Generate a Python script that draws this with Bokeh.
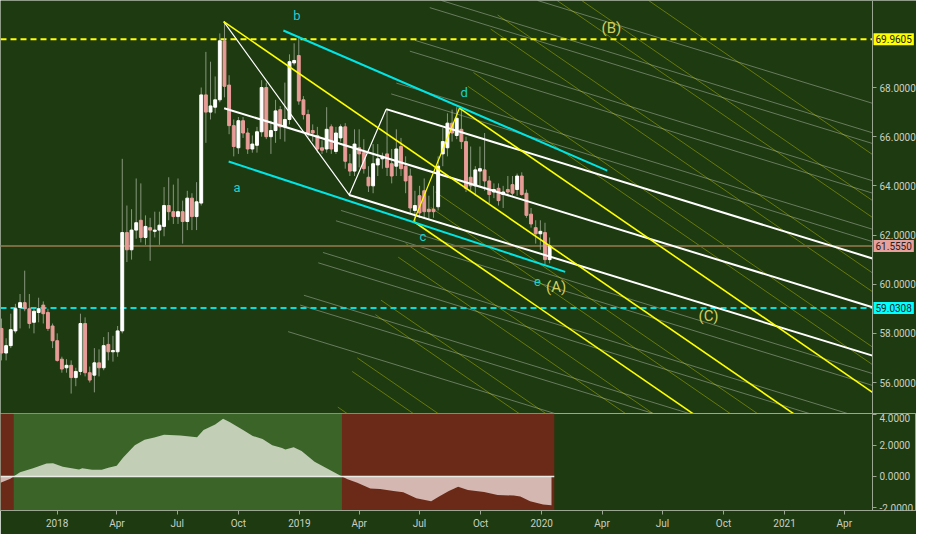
import datetime as dt
from bokeh.plotting import figure
from bokeh.layouts import column
from bokeh.models import (Range1d, FixedTicker, CustomJSTickFormatter, NumeralTickFormatter,
                          Label, ColumnDataSource)
from bokeh.core.properties import value
from bokeh.embed import file_html
from bokeh.resources import INLINE

# ---------------- data ----------------
START = dt.date(2017, 10, 9)          # first weekly bar (week 0)

opens = [58.2, 57.2, 57.5, 58.1, 59.05, 59.25, 59.0, 58.45, 58.85, 59.15,
         58.85, 58.3, 57.7, 56.95, 56.6, 56.7, 56.2, 56.45, 58.4, 56.4,
         56.3, 56.8, 56.6, 57.55, 57.25, 57.25, 58.1, 62.1, 61.4, 62.2,
         62.6, 61.9, 62.3, 62.15, 62.2, 62.35, 63.2, 62.95, 62.75, 62.95,
         62.55, 63.5, 62.75, 63.3, 67.7, 67.0, 67.2, 67.5, 69.9, 68.1,
         66.45, 65.55, 66.65, 66.15, 65.5, 65.65, 66.2, 68.0, 66.0, 66.25,
         67.1, 66.4, 66.7, 69.0, 69.3, 67.5, 66.9, 66.25, 66.05, 65.55,
         65.5, 66.4, 65.4, 65.95, 66.4, 64.9, 64.6, 65.55, 65.35, 64.35,
         64.0, 64.85, 65.1, 65.3, 64.9, 64.8, 65.6, 64.8, 64.4, 63.0,
         63.6, 63.8, 63.05, 63.05, 63.15, 65.3, 65.55, 66.55, 66.05, 66.3,
         65.8, 64.35, 64.0, 64.6, 64.65, 64.2, 63.75, 63.9, 63.65, 63.85,
         64.05, 63.85, 64.4, 63.7, 62.85, 62.3, 62.05, 62.1, 61.0]
highs = [58.6, 57.8, 58.8, 59.2, 59.6, 60.55, 59.6, 59.05, 59.45, 59.3,
         59.0, 58.4, 58.0, 57.05, 56.95, 56.9, 56.6, 58.8, 58.65, 56.65,
         57.4, 57.35, 57.85, 58.05, 57.9, 58.3, 65.1, 63.2, 63.05, 64.3,
         64.1, 62.8, 62.7, 62.95, 62.95, 63.95, 64.35, 64.05, 64.3, 63.4,
         63.8, 63.7, 64.15, 68.0, 69.45, 69.05, 68.45, 70.2, 70.7, 68.5,
         66.7, 66.8, 66.8, 66.35, 66.05, 66.4, 68.3, 68.2, 66.65, 67.5,
         67.25, 68.2, 69.35, 69.8, 70.1, 67.65, 67.1, 66.5, 66.4, 65.85,
         67.2, 66.5, 66.4, 66.5, 66.55, 65.3, 66.3, 66.3, 65.9, 64.8,
         65.7, 65.7, 65.35, 67.1, 65.5, 66.3, 65.95, 65.2, 64.7, 63.8,
         64.0, 64.3, 63.6, 64.0, 65.2, 66.35, 66.95, 67.1, 67.2, 67.15,
         66.0, 65.6, 64.8, 65.6, 66.15, 64.4, 64.1, 64.1, 64.0, 64.4,
         64.4, 64.5, 64.55, 63.85, 63.1, 62.6, 62.6, 62.5, 61.9]
lows = [56.9, 56.9, 57.4, 58.0, 58.2, 58.9, 58.2, 58.0, 58.45, 58.4,
        58.1, 57.4, 56.85, 56.4, 56.4, 55.55, 55.85, 56.3, 56.25, 56.0,
        55.6, 56.25, 56.5, 56.9, 56.85, 57.05, 58.0, 60.9, 61.0, 61.85,
        61.7, 61.6, 60.95, 61.9, 61.6, 61.95, 62.6, 62.45, 62.45, 61.65,
        62.2, 62.2, 62.2, 63.2, 65.75, 66.7, 66.95, 67.4, 67.6, 66.1,
        65.2, 65.3, 65.95, 65.3, 65.35, 65.35, 66.0, 65.9, 65.3, 65.75,
        65.9, 65.8, 66.5, 68.9, 67.3, 66.7, 66.0, 65.8, 65.35, 65.3,
        65.35, 65.3, 65.3, 65.8, 64.7, 64.4, 64.4, 64.75, 64.5, 63.75,
        63.7, 64.4, 64.7, 64.4, 64.1, 64.4, 64.4, 63.7, 62.9, 62.55,
        62.7, 62.65, 62.65, 62.7, 63.0, 64.8, 65.2, 65.8, 65.9, 65.5,
        63.75, 63.8, 63.6, 64.0, 63.8, 63.3, 63.5, 63.2, 63.1, 63.6,
        63.6, 63.6, 63.6, 62.7, 62.3, 61.65, 61.4, 60.8, 60.85]
closes = [57.2, 57.5, 58.15, 59.0, 59.25, 59.0, 58.4, 58.9, 59.0, 58.8,
          58.2, 57.7, 56.9, 56.55, 56.7, 56.2, 56.45, 58.4, 56.4, 56.1,
          56.8, 56.6, 57.5, 57.25, 57.3, 58.1, 62.1, 61.4, 62.2, 62.5,
          61.9, 62.35, 62.2, 62.2, 62.4, 63.2, 62.95, 62.75, 62.95, 62.55,
          63.5, 62.75, 63.35, 67.7, 67.0, 67.25, 67.5, 69.9, 68.05, 66.45,
          65.6, 66.65, 66.15, 65.5, 65.7, 66.2, 68.0, 66.0, 66.25, 67.05,
          66.4, 66.7, 69.05, 69.1, 67.45, 66.9, 66.15, 66.15, 65.5, 65.45,
          66.3, 65.5, 66.15, 66.4, 65.0, 64.6, 65.7, 65.3, 64.7, 64.0,
          64.9, 65.1, 65.2, 64.75, 64.4, 65.5, 64.7, 64.2, 63.1, 63.2,
          62.9, 62.95, 62.95, 62.95, 64.8, 65.8, 66.55, 66.15, 66.75, 65.8,
          63.9, 64.0, 64.65, 64.7, 64.2, 63.65, 63.85, 63.4, 63.75, 63.75,
          63.7, 64.4, 63.65, 62.8, 62.45, 62.05, 62.15, 61.0, 61.555]

# horizontal levels
level_B = 69.9605
level_C = 59.0308
last_price = 61.555

# wave pivots (week, price)
zig_w = [47.84, 74.84, 82.81]
zig_p = [70.68, 63.63, 67.12]
cd_w = [88.73, 98.58]
cd_p = [62.55, 67.16]

# white channel lines: start (week, price), common slope per week
white_w = [82.81, 47.93, 74.84]
white_p = [67.12, 67.16, 63.63]
white_slope = -0.058
# yellow lines from peak, c, d
yel_w = [47.84, 88.73, 98.58]
yel_p = [70.68, 62.55, 67.16]
yel_slope = -0.130
# cyan channel
cyan_w0 = [60.68, 48.9]
cyan_p0 = [70.32, 64.99]
cyan_w1 = [130.4, 121.35]
cyan_p1 = [64.62, 60.5]

# faint fan lines
gray_w = [115.4, 94.7, 92.2, 89.0, 87.9, 85.0, 83.9, 73.1, 72.0, 69.2, 68.2, 65.1, 64.3, 61.7]
gray_p = [71.54, 71.54, 71.25, 69.92, 69.48, 68.18, 67.74, 63.0, 62.58, 61.29, 60.87, 59.55, 59.15, 58.07]
olive_w = [139.3, 124.9, 119.6, 106.8, 105.3, 101.6, 100.4, 93.4, 92.4, 87.0, 85.4, 81.7, 80.5, 76.6, 75.5, 72.4]
olive_p = [71.54, 71.54, 71.54, 70.95, 70.38, 68.61, 68.05, 63.75, 63.12, 61.66, 61.1, 59.35, 58.76, 57.0, 56.45, 55.0]

wave_txt = ["a", "b", "c", "d", "e"]
wave_w = [50.7, 63.6, 90.7, 99.6, 115.4]
wave_p = [63.95, 70.95, 61.93, 67.78, 60.11]
deg_txt = ["(A)", "(B)", "(C)"]
deg_w = [119.4, 131.3, 152.2]
deg_p = [59.88, 70.43, 58.7]

# oscillator samples (week, value)
osc_w = [-0.2, 1.9, 2.6, 4.0, 6.8, 9.7, 11.1, 13.2, 16.7, 17.4, 19.5, 21.6, 23.0, 24.8,
         26.2, 28.7, 30.8, 32.9, 35.0, 38.5, 42.1, 43.5, 46.0, 47.7, 49.1, 52.0, 54.1,
         56.2, 58.3, 60.4, 61.1, 62.9, 64.6, 67.4, 70.3, 73.3, 74.5, 76.6, 79.4, 81.5,
         84.4, 86.5, 89.3, 92.5, 94.2, 96.3, 98.3, 100.4, 103.9, 106.8, 110.3, 111.7,
         113.8, 116.6, 118.4]
osc_v = [-0.4, -0.15, 0.0, 0.27, 0.52, 0.83, 0.85, 0.62, 0.44, 0.52, 0.42, 0.42, 0.56, 0.69,
         1.21, 2.0, 2.35, 2.5, 2.67, 2.63, 2.52, 2.98, 3.33, 3.71, 3.5, 2.98, 2.6,
         2.4, 2.0, 1.83, 1.73, 1.88, 1.63, 0.94, 0.48, 0.0, -0.19, -0.4, -0.77, -0.81,
         -0.94, -1.02, -1.4, -1.6, -1.29, -0.94, -0.67, -0.88, -1.0, -1.19, -1.23, -1.29,
         -1.6, -1.81, -1.85]
# regime bands (week start, week end, regime)
band_w0 = [-0.21, 2.6, 73.3]
band_w1 = [2.6, 73.3, 119.0]
band_up = [False, True, False]

price_ticks = [56, 58, 60, 62, 64, 66, 68]
osc_ticks = [-2, 0, 2, 4]
tick_dates = ["2018-01-01", "2018-04-01", "2018-07-01", "2018-10-01", "2019-01-01",
              "2019-04-01", "2019-07-01", "2019-10-01", "2020-01-01", "2020-04-01",
              "2020-07-01", "2020-10-01", "2021-01-01", "2021-04-01"]
tick_labels = ["2018", "Apr", "Jul", "Oct", "2019", "Apr", "Jul", "Oct", "2020",
               "Apr", "Jul", "Oct", "2021", "Apr"]

# ---------------- style / layout ----------------
BG = "#1e3a10"
AXC = "#9aa592"
TXT = "#c9d0c2"
FONT = "Roboto"
FIG_W = 916
SCALE_W = 44                      # width of the price-scale strip
X0 = -0.21
XA = 187.5                        # week where the price scale sits
X_END = X0 + (XA - X0) * FIG_W / (FIG_W - SCALE_W)

def week_of(s):
    return (dt.date.fromisoformat(s) - START).days / 7.0

tick_pos = [week_of(s) for s in tick_dates]

main = figure(width=FIG_W, height=413, x_range=Range1d(X0, X_END), y_range=Range1d(54.74, 71.54),
              output_backend="svg", toolbar_location=None, x_axis_location=None,
              y_axis_location="right", min_border_left=0, min_border_right=0,
              min_border_top=0, min_border_bottom=0, background_fill_color=BG,
              border_fill_color=BG, outline_line_color=None)
main.grid.visible = False

# faint lines
gx1 = [XA] * len(gray_w)
gy1 = [p + white_slope * (XA - w) for w, p in zip(gray_w, gray_p)]
main.segment(gray_w, gray_p, gx1, gy1, line_color="white", line_alpha=0.33, line_width=1)
ox1 = [XA] * len(olive_w)
oy1 = [p + yel_slope * (XA - w) for w, p in zip(olive_w, olive_p)]
main.segment(olive_w, olive_p, ox1, oy1, line_color="#e0e000", line_alpha=0.38, line_width=1)

# horizontal levels
main.line([X0, XA], [last_price, last_price], line_color="#7a6a40", line_width=2)
main.line([X0, XA], [level_B, level_B], line_color="#ffff00", line_width=2, line_dash="6 4")
main.line([X0, XA], [level_C, level_C], line_color="#00e0e0", line_width=2, line_dash="6 4")

# candles
idx = list(range(len(opens)))
up = [c >= o for o, c in zip(opens, closes)]
src = ColumnDataSource(dict(
    x=idx, o=opens, h=highs, l=lows, c=closes,
    top=[max(o, c) for o, c in zip(opens, closes)],
    bot=[min(o, c) for o, c in zip(opens, closes)],
    col=["#ffffff" if u else "#e89c98" for u in up]))
main.segment("x", "h", "x", "l", source=src, line_color="#a3ae9a", line_alpha=0.8, line_width=1)
main.vbar(x="x", top="top", bottom="bot", width=0.62, source=src, fill_color="col", line_color="col")

# structure lines
wx1 = [XA] * 3
wy1 = [p + white_slope * (XA - w) for w, p in zip(white_w, white_p)]
main.segment(white_w, white_p, wx1, wy1, line_color="white", line_width=2)
main.line(zig_w, zig_p, line_color="white", line_width=1.2)
yx1 = [XA] * 3
yy1 = [p + yel_slope * (XA - w) for w, p in zip(yel_w, yel_p)]
main.segment(yel_w, yel_p, yx1, yy1, line_color="#ffff00", line_width=1.6)
main.line(cd_w, cd_p, line_color="#ffff00", line_width=1.2)
main.segment(cyan_w0, cyan_p0, cyan_w1, cyan_p1, line_color="#00e5e5", line_width=2)

main.text(wave_w, wave_p, text=wave_txt, text_color="#1fd0d0", text_font=value(FONT),
          text_font_size="13px", text_align="center", text_baseline="middle")
main.text(deg_w, deg_p, text=deg_txt, text_color="#d2cf5c", text_font=value(FONT),
          text_font_size="15px", text_align="center", text_baseline="middle")

main.yaxis.ticker = FixedTicker(ticks=price_ticks)
main.yaxis.formatter = NumeralTickFormatter(format="0.0000")
main.yaxis.fixed_location = XA

# price tags on the price scale
for lv, bgc in [(level_B, "#ffff00"), (last_price, "#e8a09c"), (level_C, "#00ffff")]:
    main.add_layout(Label(x=XA, y=lv, text=f"{lv:.4f}", x_offset=1,
                          text_align="left", text_baseline="middle", text_font=FONT,
                          text_font_size="10px", text_color="#222222",
                          background_fill_color=bgc, padding=2))

# oscillator panel
osc = figure(width=FIG_W, height=121, x_range=main.x_range, y_range=Range1d(-2.19, 4.04),
             output_backend="svg", toolbar_location=None, y_axis_location="right",
             min_border_left=0, min_border_right=0, min_border_top=0, min_border_bottom=24,
             background_fill_color=BG, border_fill_color=BG, outline_line_color=AXC)
osc.grid.visible = False
osc.quad(left=band_w0, right=band_w1, bottom=-2.19, top=4.04,
         fill_color=["#3b6429" if u else "#6b2a18" for u in band_up], line_color=None)
pos = [max(v, 0) for v in osc_v]
neg = [min(v, 0) for v in osc_v]
osc.varea(x=osc_w, y1=0, y2=pos, fill_color="#c3ceb7")
osc.varea(x=osc_w, y1=0, y2=neg, fill_color="#d5b7b2")
osc.line([X0, band_w1[-1]], [0, 0], line_color="#e8ece4", line_width=1.5)
osc.yaxis.ticker = FixedTicker(ticks=osc_ticks)
osc.yaxis.formatter = NumeralTickFormatter(format="0.0000")
osc.yaxis.fixed_location = XA
osc.xaxis.ticker = FixedTicker(ticks=tick_pos)
osc.xaxis.formatter = CustomJSTickFormatter(args=dict(pos=tick_pos, labels=tick_labels), code="""
for (let i = 0; i < pos.length; i++) { if (Math.abs(pos[i] - tick) < 1e-6) return labels[i]; }
return "";
""")

for p in (main, osc):
    for ax in p.axis:
        ax.axis_line_color = AXC
        ax.major_tick_line_color = AXC
        ax.minor_tick_line_color = None
        ax.major_tick_in = 0
        ax.major_tick_out = 4
        ax.major_label_text_color = TXT
        ax.major_label_text_font = FONT
        ax.major_label_text_font_size = "10px"
        ax.major_label_standoff = 3

layout = column(main, osc, spacing=0)
open("out.html", "w").write(file_html(layout, INLINE))
